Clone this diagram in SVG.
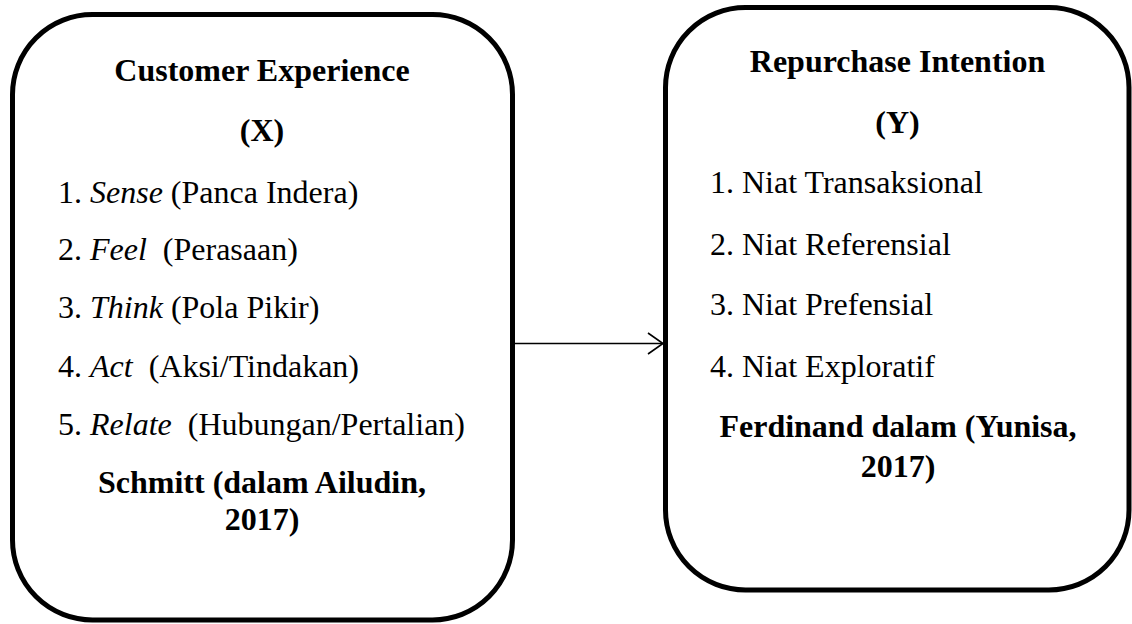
<svg xmlns="http://www.w3.org/2000/svg" width="1132" height="624" viewBox="0 0 1132 624">
<style>
.box{fill:#fff;stroke:#000;stroke-width:5}
.b{font-weight:bold}
.c{text-anchor:middle}
.i{font-style:italic}
.con{stroke:#000;stroke-width:1.6;fill:none}
</style>
<rect width="1132" height="624" fill="#fff"/>
<g id="connectors">
<line class="con" x1="515" y1="343.5" x2="663" y2="343.5"/>
<polyline class="con" points="648,333 663,343.5 648,354"/>
</g>
<g font-family="Liberation Serif, Times New Roman, serif" font-size="32" fill="#000">
<g id="customer-experience">
<rect class="box" x="12.5" y="14.5" width="500" height="605.5" rx="80" ry="80"/>
<text class="b c" x="262" y="81">Customer Experience</text>
<text class="b c" x="262" y="141">(X)</text>
<text x="58" y="203">1. <tspan class="i">Sense</tspan> (Panca Indera)</text>
<text x="58" y="260" xml:space="preserve">2. <tspan class="i">Feel</tspan>  (Perasaan)</text>
<text x="58" y="318">3. <tspan class="i">Think</tspan> (Pola Pikir)</text>
<text x="58" y="377" xml:space="preserve">4. <tspan class="i">Act</tspan>  (Aksi/Tindakan)</text>
<text x="58" y="435" xml:space="preserve">5. <tspan class="i">Relate</tspan>  (Hubungan/Pertalian)</text>
<text class="b c" x="262" y="493">Schmitt (dalam Ailudin,</text>
<text class="b c" x="262" y="530">2017)</text>
</g>
<g id="repurchase-intention">
<rect class="box" x="665.5" y="7.5" width="463.5" height="582.5" rx="80" ry="80"/>
<text class="b c" x="897.5" y="72">Repurchase Intention</text>
<text class="b c" x="897.5" y="133">(Y)</text>
<text x="710" y="193">1. Niat Transaksional</text>
<text x="710" y="255">2. Niat Referensial</text>
<text x="710" y="315">3. Niat Prefensial</text>
<text x="710" y="377">4. Niat Exploratif</text>
<text class="b c" x="898" y="437">Ferdinand dalam (Yunisa,</text>
<text class="b c" x="898" y="477">2017)</text>
</g>
</g>
</svg>
